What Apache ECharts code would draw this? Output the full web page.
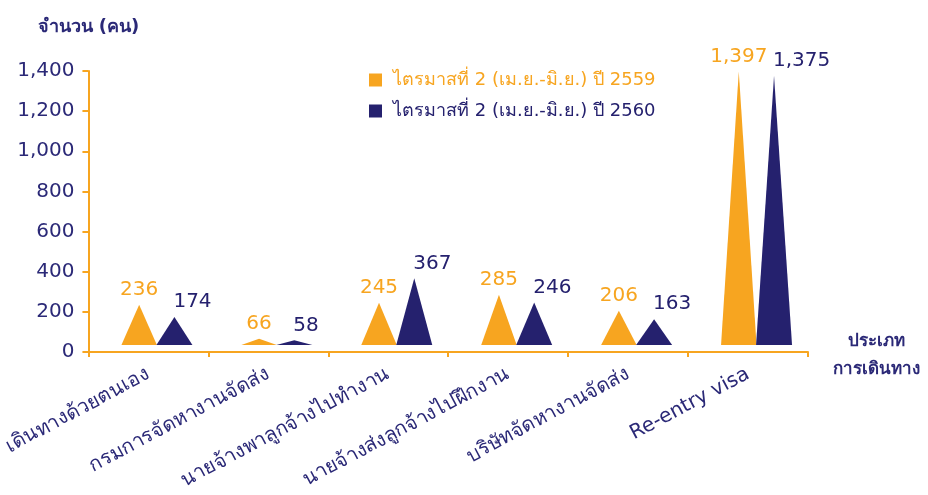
<!DOCTYPE html>
<html>
<head>
<meta charset="utf-8">
<script src="https://cdn.jsdelivr.net/npm/echarts@6/dist/echarts.min.js"></script>
<style>
html,body{margin:0;padding:0;background:#fff;}
#chart{width:928px;height:495px;}
</style>
</head>
<body>
<div id="chart"></div>
<script>
const categories = ['เดินทางด้วยตนเอง', 'กรมการจัดหางานจัดส่ง', 'นายจ้างพาลูกจ้างไปทำงาน', 'นายจ้างส่งลูกจ้างไปฝึกงาน', 'บริษัทจัดหางานจัดส่ง', 'Re-entry visa'];
const seriesNames = ['ไตรมาสที่ 2 (เม.ย.-มิ.ย.) ปี 2559', 'ไตรมาสที่ 2 (เม.ย.-มิ.ย.) ปี 2560'];
const values2559 = [236, 66, 245, 285, 206, 1397];
const values2560 = [174, 58, 367, 246, 163, 1375];
const yTicks = [0, 200, 400, 600, 800, 1000, 1200, 1400];
const xAxisTitle = ['ประเภท', 'การเดินทาง'];

const ORANGE = '#F7A520';
const NAVY = '#25216E';
const TEXT_NAVY = '#2B2977';
const FONT = "'DejaVu Sans', 'Noto Sans', sans-serif";

function fmt(v) { return v.toLocaleString('en-US'); }

function makeRender(which) {
  return function (params, api) {
    const idx = api.value(0);
    const val = api.value(1);
    const base = api.coord([idx, 0]);
    const top = api.coord([idx, val]);
    const cx = base[0];
    const by = base[1] - 7;
    let l, r;
    if (which === 0) { l = cx - 27; r = cx + 8.5; }
    else { l = cx + 8; r = cx + 44; }
    const ax = (l + r) / 2;
    const ay = top[1];
    const color = which === 0 ? ORANGE : NAVY;
    return {
      type: 'group',
      children: [
        {
          type: 'polygon',
          shape: { points: [[l, by], [r, by], [ax, ay]] },
          style: { fill: color }
        },
        {
          type: 'text',
          style: {
            text: fmt(val),
            x: which === 0 ? ax : ax - 1,
            y: ay - 5,
            align: which === 0 ? 'center' : 'left',
            verticalAlign: 'bottom',
            fill: color,
            font: "20px " + FONT
          }
        }
      ]
    };
  };
}

const chart = echarts.init(document.getElementById('chart'));
chart.setOption({
  animation: false,
  backgroundColor: '#fff',
  grid: { left: 86, right: 120, top: 71, bottom: 143, containLabel: false },
  legend: {
    orient: 'vertical',
    left: 364,
    top: 66,
    itemGap: 13,
    itemWidth: 13,
    itemHeight: 13,
    icon: 'rect',
    textStyle: { fontSize: 18, fontFamily: FONT, padding: [0, 0, 0, 6] },
    data: [
      { name: seriesNames[0], textStyle: { color: ORANGE } },
      { name: seriesNames[1], textStyle: { color: NAVY } }
    ]
  },
  graphic: [
    {
      type: 'text',
      x: 876,
      y: 328,
      style: {
        text: xAxisTitle.join('\n'),
        x: 0,
        y: 0,
        align: 'center',
        verticalAlign: 'top',
        lineHeight: 28,
        fill: TEXT_NAVY,
        font: "bold 17px " + FONT
      }
    }
  ],
  xAxis: {
    type: 'category',
    data: categories,
    boundaryGap: true,
    axisLine: { show: true, lineStyle: { color: ORANGE, width: 2 } },
    axisTick: { show: true, length: 5, lineStyle: { color: ORANGE, width: 2 } },
    axisLabel: { rotate: 28, margin: 21, color: TEXT_NAVY, fontSize: 20, fontFamily: FONT, interval: 0 },
    splitLine: { show: false }
  },
  yAxis: {
    type: 'value',
    min: 0,
    max: 1400,
    interval: 200,
    name: 'จำนวน (คน)',
    nameLocation: 'end',
    nameGap: 35,
    nameTextStyle: { color: TEXT_NAVY, fontSize: 18, fontFamily: FONT, align: 'center', fontWeight: 'bold' },
    axisLine: { show: true, lineStyle: { color: ORANGE, width: 2 } },
    axisTick: { show: true, length: 6, lineStyle: { color: ORANGE, width: 2 } },
    axisLabel: { margin: 14, color: TEXT_NAVY, fontSize: 20, fontFamily: FONT, formatter: v => yTicks.includes(v) ? fmt(v) : '' },
    splitLine: { show: false }
  },
  series: [
    {
      name: seriesNames[0],
      type: 'custom',
      itemStyle: { color: ORANGE },
      renderItem: makeRender(0),
      encode: { x: 0, y: 1 },
      data: values2559.map((v, i) => [i, v])
    },
    {
      name: seriesNames[1],
      type: 'custom',
      itemStyle: { color: NAVY },
      renderItem: makeRender(1),
      encode: { x: 0, y: 1 },
      data: values2560.map((v, i) => [i, v])
    }
  ]
});
</script>
</body>
</html>
